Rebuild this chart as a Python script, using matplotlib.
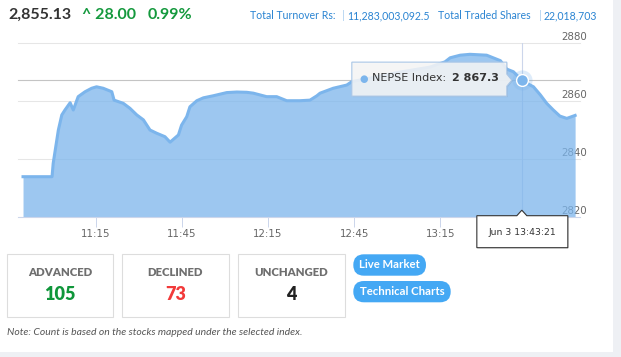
import matplotlib
matplotlib.use("Agg")
import matplotlib.pyplot as plt
from matplotlib.patches import Rectangle, FancyBboxPatch, Polygon
import matplotlib.transforms as mtransforms

# ---------------- data ----------------
times = ["10:49:42", "10:59:48", "11:00:12", "11:02:00", "11:03:12", "11:04:18",
         "11:06:06", "11:07:12", "11:08:54", "11:11:18", "11:13:36", "11:15:18",
         "11:17:36", "11:20:36", "11:21:24", "11:24:36", "11:26:54", "11:29:18",
         "11:31:36", "11:33:54", "11:36:12", "11:39:06", "11:40:54", "11:43:48",
         "11:44:54", "11:46:42", "11:47:48", "11:50:12", "11:52:30", "11:55:54",
         "12:00:36", "12:04:06", "12:07:36", "12:09:54", "12:14:30", "12:18:00",
         "12:21:30", "12:26:06", "12:29:36", "12:32:00", "12:33:06", "12:37:42",
         "12:42:24", "12:44:12", "12:50:30", "13:01:00", "13:11:24", "13:16:36",
         "13:18:24", "13:21:54", "13:25:18", "13:31:06", "13:35:54", "13:38:06",
         "13:40:24", "13:43:21", "13:45:30", "13:47:24", "13:49:48", "13:52:00",
         "13:54:18", "13:56:36", "13:59:00", "14:01:54"]
values = [2834.0, 2834.0, 2838.6, 2850.1, 2855.3, 2857.0,
          2859.5, 2857.0, 2861.6, 2863.3, 2864.5, 2865.0,
          2864.5, 2863.3, 2860.4, 2859.3, 2857.6, 2855.3,
          2853.6, 2850.1, 2849.0, 2847.8, 2845.9, 2848.4,
          2851.8, 2854.7, 2858.1, 2860.2, 2861.2, 2861.9,
          2863.0, 2863.2, 2863.1, 2862.8, 2861.6, 2861.6,
          2860.2, 2860.2, 2860.4, 2861.9, 2862.8, 2864.5,
          2865.6, 2866.8, 2868.0, 2870.1, 2871.8, 2873.6,
          2875.0, 2875.9, 2876.2, 2875.9, 2874.0, 2871.1,
          2870.2, 2867.3, 2866.0, 2865.0, 2862.2, 2859.3,
          2857.0, 2854.9, 2854.1, 2855.13]
x_tick_labels = ["11:15", "11:45", "12:15", "12:45", "13:15"]
y_ticks = [2820, 2840, 2860, 2880]
hover_time = "13:43:21"
hover_value = 2867.3
hover_date = "Jun 3"
index_name = "NEPSE Index"
last_value = 2855.13
change = 28.00
change_pct = 0.99
turnover = "11,283,003,092.5"
traded_shares = "22,018,703"
count_labels = ["ADVANCED", "DECLINED", "UNCHANGED"]
counts = [105, 73, 4]
buttons = ["Live Market", "Technical Charts"]
note = "Note: Count is based on the stocks mapped under the selected index."


def to_min(s):
    p = [int(v) for v in s.split(":")]
    while len(p) < 3:
        p.append(0)
    return p[0] * 60 + p[1] + p[2] / 60.0


tmin = [to_min(s) for s in times]
ht = to_min(hover_time)

W, H = 621, 357
fig = plt.figure(figsize=(W / 100, H / 100), dpi=100)
fig.patch.set_facecolor("white")
PAGE = "#eef0f4"
fig.add_artist(Rectangle((613 / W, 0), (W - 613) / W, 1, transform=fig.transFigure,
                         facecolor=PAGE, edgecolor="none", zorder=0))
fig.add_artist(Rectangle((0, 0), 1, (H - 352) / H, transform=fig.transFigure,
                         facecolor=PAGE, edgecolor="none", zorder=0))

# ---------------- main chart ----------------
ax = fig.add_axes([18 / W, (H - 217.3) / H, 562 / W, 174 / H])
ax.patch.set_alpha(0)
ax.set_xlim(647.95, 843.6)
ax.set_ylim(y_ticks[0], y_ticks[-1])
for s in ["top", "left", "right"]:
    ax.spines[s].set_visible(False)
ax.spines["bottom"].set_color("#ccd6eb")
ax.spines["bottom"].set_linewidth(0.8)
ax.spines["bottom"].set_zorder(4)
ax.set_yticks([])
ax.set_xticks([to_min(s) for s in x_tick_labels])
ax.set_xticklabels(x_tick_labels)
ax.tick_params(axis="x", length=7.2, width=0.72, color="#ccd6eb",
               labelcolor="#666666", labelsize=7.4, pad=1.5)
for lab in ax.get_xticklabels():
    lab.set_family("DejaVu Sans")

for v in y_ticks[1:]:
    ax.axhline(v, color="#e6e6e6", lw=0.75, zorder=0.5, clip_on=False)

ytr = mtransforms.offset_copy(ax.get_yaxis_transform(), fig=fig, x=0, y=6, units="dots")
for v in y_ticks:
    ax.text((561 - 18) / 562, v, f"{v}", transform=ytr, ha="left", va="center",
            fontsize=7.4, color="#666666", family="DejaVu Sans", zorder=1.5, clip_on=False)

# crosshairs
ax.axvline(ht, color="#ccd6eb", lw=0.8, zorder=1)
ax.axhline(hover_value, color="#c4c4c4", lw=0.8, zorder=1, clip_on=False)

ax.fill_between(tmin, y_ticks[0], values, color="#7cb5ec", alpha=0.75, lw=0, zorder=2)
ax.plot(tmin, values, color="#7cb5ec", lw=2.2, zorder=3, solid_joinstyle="round")

ax.plot([ht], [hover_value], "o", ms=14.5, color="#7cb5ec", alpha=0.25, mew=0, zorder=4)
ax.plot([ht], [hover_value], "o", ms=8.5, mfc="#7cb5ec", mec="white", mew=1.0, zorder=5)

# ---------------- overlay in pixel coordinates ----------------
ov = fig.add_axes([0, 0, 1, 1])
ov.set_xlim(0, W)
ov.set_ylim(H, 0)
ov.axis("off")
ov.patch.set_alpha(0)
ov.set_zorder(10)

fig.canvas.draw()
dx, dy = ax.transData.transform((ht, hover_value))
hx, hy = dx, H - dy

# main tooltip
L, R, T, B = hx - 170, hx - 15, hy - 18, hy + 16
pts = [(L, T), (R, T), (R, hy - 6), (hx - 10, hy), (R, hy + 6), (R, B), (L, B)]
ov.add_patch(Polygon([(x + 1, y + 1) for x, y in pts], closed=True,
                     facecolor="black", alpha=0.06, edgecolor="none"))
ov.add_patch(Polygon(pts, closed=True, facecolor="#f7f7f7", alpha=0.86,
                     edgecolor="none"))
ov.add_patch(Polygon(pts, closed=True, facecolor="none", edgecolor="#a9c6e6", lw=0.8))
ov.text(L + 12, hy - 1.5, "●", color="#7cb5ec", fontsize=7, ha="center", va="center",
        family="DejaVu Sans")
ov.text(L + 20, hy - 2, f"{index_name}:", color="#333333", fontsize=8.0,
        ha="left", va="center", family="DejaVu Sans")
ov.text(L + 100.5, hy - 2, f"{hover_value:,.1f}".replace(",", " "), color="#333333",
        fontsize=8.0, fontweight="bold", ha="left", va="center", family="DejaVu Sans")

# x-axis crosshair label
bl, br, bt, bb = hx - 45, hx + 46, 215.7, 247.7
pts2 = [(bl, bt), (hx - 5, bt), (hx, bt - 5.5), (hx + 5, bt), (br, bt), (br, bb), (bl, bb)]
ov.add_patch(Polygon([(x + 1, y + 1) for x, y in pts2], closed=True,
                     facecolor="black", alpha=0.08, edgecolor="none"))
ov.add_patch(Polygon(pts2, closed=True, facecolor="white", edgecolor="#333333", lw=0.8))
ov.text(hx + 0.5, 232.5, f"{hover_date} {hover_time}", color="#333333", fontsize=6.7,
        ha="center", va="center", family="DejaVu Sans")

# header
ov.text(8, 15, f"{last_value:,.2f}", color="#333333", fontsize=11.5, fontweight="bold",
        ha="left", va="center", family="Lato")
GREEN = "#14993d"
ov.text(82, 15, f"^ {change:.2f}", color=GREEN, fontsize=11.5, fontweight="bold",
        ha="left", va="center", family="Lato")
ov.text(148, 15, f"{change_pct:.2f}%", color=GREEN, fontsize=11.5, fontweight="bold",
        ha="left", va="center", family="Lato")
BLUE = "#2a84d2"
BAR = "#a9cdef"
hdr = [(250, "Total Turnover Rs:", BLUE), (341.8, "|", BAR), (347.3, turnover, BLUE),
       (438.3, "Total Traded Shares", BLUE), (539.0, "|", BAR), (544.0, traded_shares, BLUE)]
for x, s, c in hdr:
    ov.text(x, 15.5, s, color=c, fontsize=7.6, ha="left", va="center", family="Lato")

# count boxes
boxes = [(7, 113.3), (122.3, 228.7), (237.7, 344.7)]
colors = ["#0f963a", "#f23a3a", "#222222"]
for (x0, x1), lab, n, c in zip(boxes, count_labels, counts, colors):
    ov.add_patch(Rectangle((x0, 254.3), x1 - x0, 63, facecolor="white",
                           edgecolor="#dddddd", lw=0.8))
    cx = (x0 + x1) / 2
    ov.text(cx, 272.3, lab, color="#6f6f6f", fontsize=8.2, fontweight="heavy",
            ha="center", va="center", family="Lato")
    ov.text(cx, 295, f"{n}", color=c, fontsize=13, fontweight="heavy",
            ha="center", va="center", family="Lato")

# buttons
BTN = "#44a8f4"
btn_geo = [(353.3, 426.0, 254.3, 275.7), (353.3, 450.7, 281.0, 302.3)]
for (x0, x1, y0, y1), s in zip(btn_geo, buttons):
    hgt = y1 - y0
    ov.add_patch(FancyBboxPatch((x0, y0), x1 - x0, hgt,
                                boxstyle=f"round,pad=0,rounding_size={hgt / 2}",
                                facecolor=BTN, edgecolor="none"))
    ov.text((x0 + x1) / 2, (y0 + y1) / 2, s, color="white", fontsize=8.2,
            fontweight="bold", ha="center", va="center", family="Lato")

ov.text(7, 332.3, note, color="#555555", fontsize=7.5, style="italic",
        ha="left", va="center", family="Lato")

fig.savefig("out.png", dpi=100, facecolor=fig.get_facecolor())
